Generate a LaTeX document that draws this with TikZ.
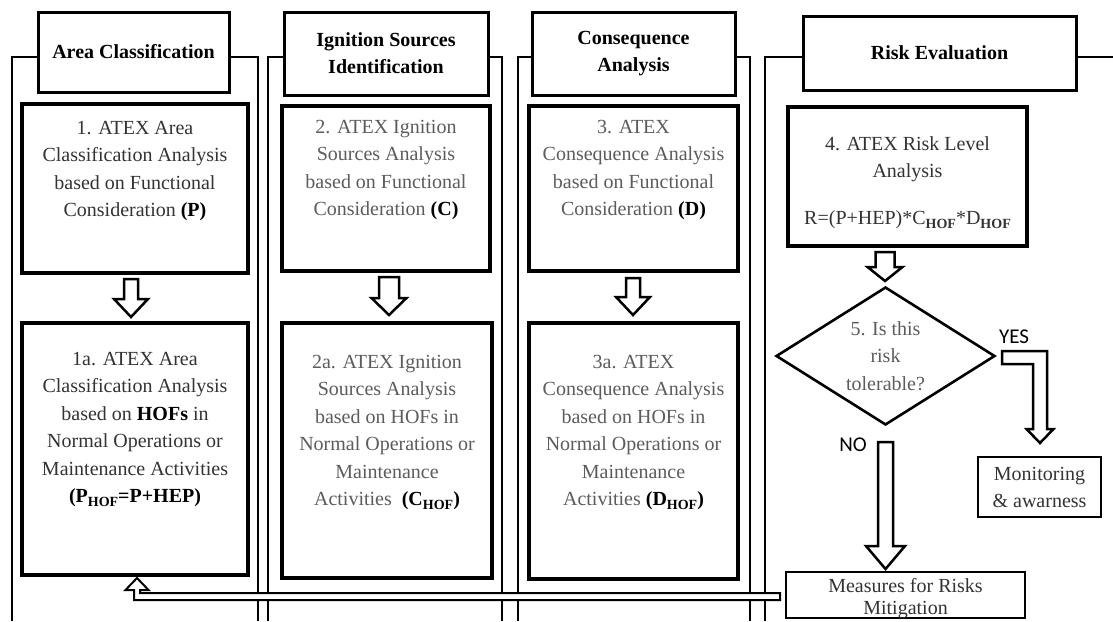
\documentclass[tikz,border=0pt]{standalone}
\usepackage{fontspec}
\setmainfont{Liberation Serif}
\newfontfamily\calibfont{Carlito}
\usetikzlibrary{calc,shapes.geometric}
\definecolor{txtdark}{gray}{0.2}
\definecolor{txtgray}{gray}{0.36}
\newcommand\hsub[1]{\raisebox{-4pt}{\fontsize{14}{14}\selectfont\bfseries #1}}
% #1 start coordinate, #2 tip coordinate, #3 shaft half width, #4 head half width, #5 head length
\newcommand\blockdown[5]{%
  \draw[blk] let \p1=(#1), \p2=(#2) in
    (\x1-#3pt,\y1) -- (\x1+#3pt,\y1) -- (\x1+#3pt,\y2+#5pt) -- (\x1+#4pt,\y2+#5pt)
    -- (\x1,\y2) -- (\x1-#4pt,\y2+#5pt) -- (\x1-#3pt,\y2+#5pt) -- cycle;}
\begin{document}
\begin{tikzpicture}[x=1pt,y=-1pt,
  frame/.style={line width=2.6pt},
  hdr/.style={draw,line width=3pt,fill=white,inner sep=0,align=center,
    font=\bfseries\fontsize{20}{27}\selectfont},
  box/.style={draw,line width=3.2pt,fill=white,inner sep=0},
  sbox/.style={draw,line width=2.6pt,fill=white,inner sep=0,align=center,
    font=\fontsize{20}{27}\selectfont,text=txtdark},
  txt/.style={anchor=north,inner sep=0,align=center,font=\fontsize{20}{27.5}\selectfont},
  blk/.style={draw,line width=2.5pt,fill=white,line join=miter},
  yn/.style={inner sep=0,font=\calibfont\fontsize{21}{21}\selectfont},
]
\useasboundingbox (0,0) rectangle (1113,621);

% column frames
\draw[frame] (12,621) -- (12,57) -- (258,57) -- (258,621);
\draw[frame] (268,621) -- (268,57) -- (502,57) -- (502,621);
\draw[frame] (518,621) -- (518,57) -- (750,57) -- (750,621);
\draw[frame] (765,621) -- (765,57) -- (1113,57);

% headers
\node[hdr,minimum width=191,minimum height=80] (h1) at (133.5,52) {Area Classification};
\node[hdr,minimum width=204,minimum height=83] (h2) at (386,53.5) {Ignition Sources\\Identification};
\node[hdr,minimum width=203,minimum height=83] (h3) at (633.5,53.5) {Consequence\\Analysis};
\node[hdr,minimum width=273,minimum height=74] (h4) at (939.5,53) {Risk Evaluation};

% boxes
\node[box,minimum width=226,minimum height=169] (b1) at (135,188.5) {};
\node[box,minimum width=226,minimum height=252] (b1a) at (135,449) {};
\node[box,minimum width=208,minimum height=165] (b2) at (386,188.5) {};
\node[box,minimum width=210,minimum height=255] (b2a) at (387,450.5) {};
\node[box,minimum width=209,minimum height=165] (b3) at (633.5,188.5) {};
\node[box,minimum width=209,minimum height=256] (b3a) at (633.5,451) {};
\node[box,minimum width=239,minimum height=139] (b4) at (907.5,176.5) {};
\node[diamond,draw,line width=2.6pt,fill=white,inner sep=0,minimum width=219,minimum height=138] (dia) at (885.5,356) {};
\node[sbox,minimum width=123,minimum height=60] (mon) at (1039.5,487) {Monitoring\\\&\ awarness};
\node[sbox,minimum width=239,minimum height=46] (mb) at (905.5,595) {};
\node[inner sep=0,align=center,font=\fontsize{20}{22}\selectfont,text=txtdark] (mbt) at (905.5,598.5) {Measures for Risks\\Mitigation};

% box texts
\node[txt,text=txtdark] (t1) at (b1.north |- 0,121) {1. ATEX Area\\Classification Analysis\\based on Functional\\Consideration \textcolor{black}{\textbf{(P)}}};
\node[txt,text=txtdark] (t1a) at (b1a.north |- 0,352) {1a. ATEX Area\\Classification Analysis\\based on \textcolor{black}{\textbf{HOFs}} in\\Normal Operations or\\Maintenance Activities\\\textcolor{black}{\textbf{(P\hsub{HOF}=P+HEP)}}};
\node[txt,text=txtgray] (t2) at (b2.north |- 0,120) {2. ATEX Ignition\\Sources Analysis\\based on Functional\\Consideration \textcolor{black}{\textbf{(C)}}};
\node[txt,text=txtgray] (t2a) at (b2a.north |- 0,355) {2a. ATEX Ignition\\Sources Analysis\\based on HOFs in\\Normal Operations or\\Maintenance\\Activities\hspace{5pt} \textcolor{black}{\textbf{(C\hsub{HOF})}}};
\node[txt,text=txtgray] (t3) at (b3.north |- 0,120) {3. ATEX\\Consequence Analysis\\based on Functional\\Consideration \textcolor{black}{\textbf{(D)}}};
\node[txt,text=txtgray] (t3a) at (b3a.north |- 0,355) {3a. ATEX\\Consequence Analysis\\based on HOFs in\\Normal Operations or\\Maintenance\\Activities \textcolor{black}{\textbf{(D\hsub{HOF})}}};
\node[txt,text=txtdark] (t4) at (b4.north |- 0,136) {4. ATEX Risk Level\\Analysis\\[19.5pt]R=(P+HEP)*C\hsub{HOF}*D\hsub{HOF}};
\node[inner sep=0,align=center,font=\fontsize{20}{27.5}\selectfont,text=txtgray] (tdia) at (dia.center) {5. Is this\\risk\\tolerable?};

% labels
\node[yn] (yes) at (1014,337) {YES};
\node[yn] (no) at (853,445) {NO};

% block arrows
\coordinate (a1s) at (131,279); \coordinate (a1e) at (131,317);
\coordinate (a2s) at (389,277); \coordinate (a2e) at (389,315);
\coordinate (a3s) at (633,278); \coordinate (a3e) at (633,315);
\coordinate (a4s) at (885,252); \coordinate (a4e) at (885,281);
\coordinate (nos) at (885.5,442); \coordinate (noe) at (885.5,569);
\blockdown{a1s}{a1e}{7}{17}{18}
\blockdown{a2s}{a2e}{10}{17.5}{17}
\blockdown{a3s}{a3e}{7}{17}{18}
\blockdown{a4s}{a4e}{9.5}{17.5}{14}
\blockdown{nos}{noe}{7.5}{19.5}{23}

% YES arrow
\coordinate (ys) at (1002,357.5); \coordinate (ye) at (1040,443);
\draw[blk] let \p1=(ys), \p2=(ye) in
  (\x1,\y1+6.5pt) -- (\x2+7pt,\y1+6.5pt) -- (\x2+7pt,\y2+14pt) -- (\x2+13.5pt,\y2+14pt)
  -- (\x2,\y2) -- (\x2-13.5pt,\y2+14pt) -- (\x2-7pt,\y2+14pt) -- (\x2-7pt,\y1-6.5pt)
  -- (\x1,\y1-6.5pt) -- cycle;

% feedback arrow from measures to 1a
\coordinate (fs) at (780,596.5); \coordinate (fe) at (137,578);
\draw[blk,line width=2pt] let \p1=(fs), \p2=(fe) in
  (\x1,\y1+3.5pt) -- (\x2+3pt,\y1+3.5pt) -- (\x2+3pt,\y2-12pt) -- (\x2+11.5pt,\y2-12pt)
  -- (\x2,\y2) -- (\x2-11.5pt,\y2-12pt) -- (\x2-3pt,\y2-12pt) -- (\x2-3pt,\y1-3.5pt)
  -- (\x1,\y1-3.5pt) -- cycle;
\end{tikzpicture}
\end{document}
